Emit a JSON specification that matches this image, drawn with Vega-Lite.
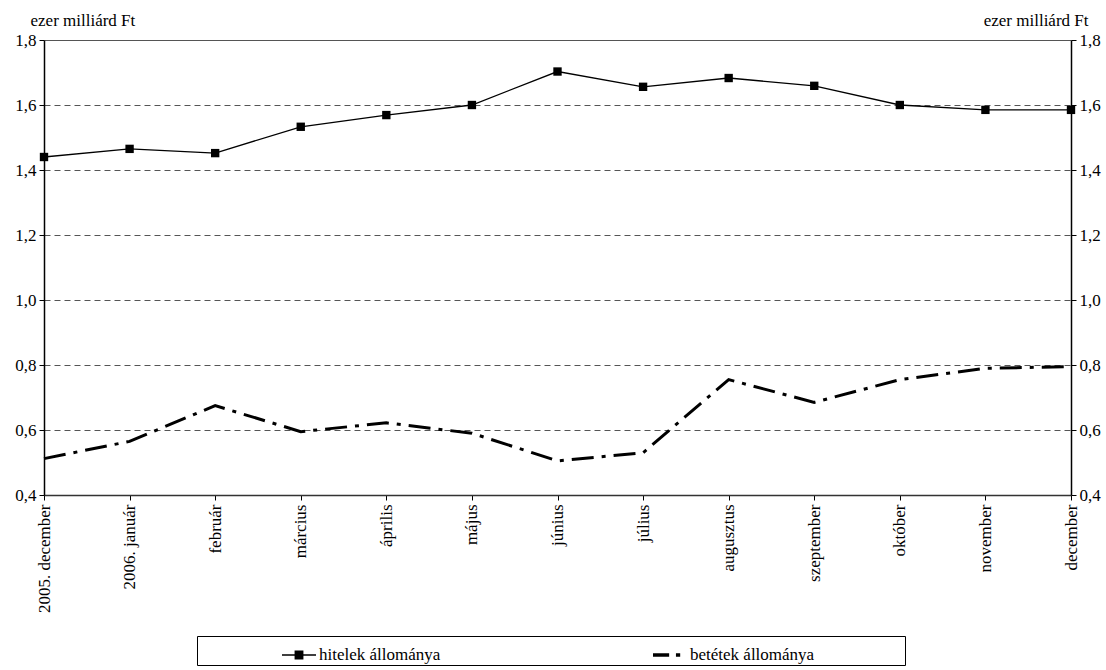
{
  "$schema": "https://vega.github.io/schema/vega-lite/v6.json",
  "autosize": {"type": "none"},
  "padding": {"left": 44, "top": 40, "right": 35, "bottom": 175},
  "width": 1027,
  "height": 455,
  "background": "white",
  "config": {
    "font": "Liberation Serif",
    "view": {"stroke": null},
    "axis": {"labelFont": "Liberation Serif", "titleFont": "Liberation Serif", "labelColor": "black", "titleColor": "black", "labelFontSize": 17, "titleFontSize": 17, "titleFontWeight": "normal"},
    "legend": {"labelFont": "Liberation Serif", "labelFontSize": 17, "titleFont": "Liberation Serif", "titleFontSize": 17}
  },
  "data": {
    "values": [
      {"honap": "2005. december", "sorozat": "hitelek állománya", "ertek": 1.44},
      {"honap": "2006. január", "sorozat": "hitelek állománya", "ertek": 1.465},
      {"honap": "február", "sorozat": "hitelek állománya", "ertek": 1.452},
      {"honap": "március", "sorozat": "hitelek állománya", "ertek": 1.533},
      {"honap": "április", "sorozat": "hitelek állománya", "ertek": 1.569},
      {"honap": "május", "sorozat": "hitelek állománya", "ertek": 1.6},
      {"honap": "június", "sorozat": "hitelek állománya", "ertek": 1.703},
      {"honap": "július", "sorozat": "hitelek állománya", "ertek": 1.656},
      {"honap": "augusztus", "sorozat": "hitelek állománya", "ertek": 1.683},
      {"honap": "szeptember", "sorozat": "hitelek állománya", "ertek": 1.659},
      {"honap": "október", "sorozat": "hitelek állománya", "ertek": 1.6},
      {"honap": "november", "sorozat": "hitelek állománya", "ertek": 1.585},
      {"honap": "december", "sorozat": "hitelek állománya", "ertek": 1.585},
      {"honap": "2005. december", "sorozat": "betétek állománya", "ertek": 0.512},
      {"honap": "2006. január", "sorozat": "betétek állománya", "ertek": 0.565},
      {"honap": "február", "sorozat": "betétek állománya", "ertek": 0.675},
      {"honap": "március", "sorozat": "betétek állománya", "ertek": 0.595},
      {"honap": "április", "sorozat": "betétek állománya", "ertek": 0.622},
      {"honap": "május", "sorozat": "betétek állománya", "ertek": 0.59},
      {"honap": "június", "sorozat": "betétek állománya", "ertek": 0.505},
      {"honap": "július", "sorozat": "betétek állománya", "ertek": 0.53},
      {"honap": "augusztus", "sorozat": "betétek állománya", "ertek": 0.755},
      {"honap": "szeptember", "sorozat": "betétek állománya", "ertek": 0.685},
      {"honap": "október", "sorozat": "betétek állománya", "ertek": 0.755},
      {"honap": "november", "sorozat": "betétek állománya", "ertek": 0.79},
      {"honap": "december", "sorozat": "betétek állománya", "ertek": 0.795}
    ]
  },
  "layer": [
    {
      "transform": [{"filter": "datum.sorozat === 'hitelek állománya'"}],
      "mark": {"type": "line", "color": "black", "strokeWidth": 1.3},
      "encoding": {
        "x": {
          "field": "honap", "type": "ordinal", "sort": null,
          "scale": {"type": "point", "padding": 0},
          "axis": {"title": null, "labelAngle": -90, "labelAlign": "right", "labelBaseline": "middle", "labelPadding": 4, "tickSize": 5, "tickColor": "black", "domainColor": "#333", "domainWidth": 1.5, "grid": false}
        },
        "y": {
          "field": "ertek", "type": "quantitative",
          "scale": {"domain": [0.4, 1.8], "nice": false, "zero": false},
          "axis": {
            "title": "ezer milliárd Ft", "titleAngle": 0, "titleAlign": "left", "titleBaseline": "middle", "titleX": -14, "titleY": -20,
            "values": [0.4, 0.6, 0.8, 1.0, 1.2, 1.4, 1.6, 1.8],
            "labelExpr": "replace(format(datum.value, '.1f'), '.', ',')",
            "labelPadding": 3, "tickSize": 5, "tickColor": "black", "domainColor": "black", "domainWidth": 1.5,
            "grid": true, "gridColor": "#555", "gridWidth": 1,
            "gridDash": {"condition": {"test": "datum.value >= 1.79", "value": []}, "value": [6, 4]}
          }
        }
      }
    },
    {
      "transform": [{"filter": "datum.sorozat === 'betétek állománya'"}],
      "mark": {"type": "line", "color": "black", "strokeWidth": 3, "strokeDash": [22, 8, 4, 8]},
      "encoding": {
        "x": {"field": "honap", "type": "ordinal", "sort": null},
        "y": {"field": "ertek", "type": "quantitative", "axis": null}
      }
    },
    {
      "transform": [{"filter": "datum.sorozat === 'hitelek állománya'"}],
      "mark": {"type": "point", "shape": "square", "filled": true, "color": "black", "size": 70, "opacity": 1},
      "encoding": {
        "x": {"field": "honap", "type": "ordinal", "sort": null},
        "y": {
          "field": "ertek", "type": "quantitative",
          "axis": {
            "orient": "right", "title": "ezer milliárd Ft", "titleAngle": 0, "titleAlign": "right", "titleBaseline": "middle", "titleX": 17, "titleY": -20,
            "values": [0.4, 0.6, 0.8, 1.0, 1.2, 1.4, 1.6, 1.8],
            "labelExpr": "replace(format(datum.value, '.1f'), '.', ',')",
            "labelPadding": 3, "tickSize": 5, "tickColor": "black", "domainColor": "black", "domainWidth": 1.5, "grid": false
          }
        }
      }
    },
    {
      "mark": {"type": "point", "filled": true, "color": "black", "opacity": 0},
      "encoding": {
        "x": {"field": "honap", "type": "ordinal", "sort": null},
        "y": {"field": "ertek", "type": "quantitative", "axis": null},
        "shape": {
          "field": "sorozat", "type": "nominal",
          "scale": {
            "domain": ["hitelek állománya", "betétek állománya"],
            "range": [
              "M-1,-0.045H1V0.045H-1ZM-0.26,-0.26H0.26V0.26H-0.26Z",
              "M-1,-0.1H-0.05V0.1H-1ZM0.35,-0.1H0.6V0.1H0.35Z"
            ]
          },
          "legend": {
            "title": "\u00a0", "titleOrient": "right", "titlePadding": 89,
            "orient": "none", "legendX": 153, "legendY": 596,
            "direction": "horizontal", "columns": 2, "columnPadding": 129,
            "strokeColor": "black", "padding": 2, "symbolOffset": 83,
            "symbolSize": 1156, "symbolFillColor": "black", "symbolStrokeColor": "black", "symbolStrokeWidth": 0, "symbolOpacity": 1,
            "labelColor": "black", "labelOffset": 3, "labelLimit": 500
          }
        }
      }
    }
  ],
  "resolve": {"axis": {"y": "independent"}}
}
